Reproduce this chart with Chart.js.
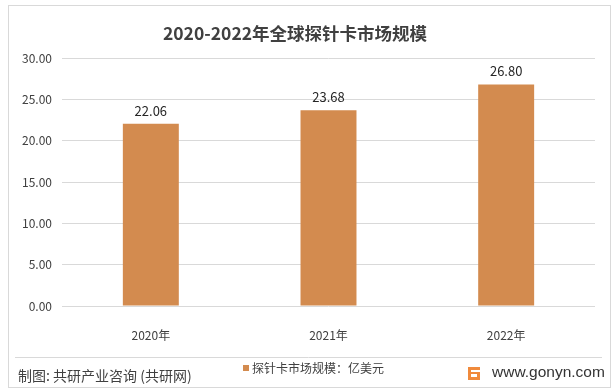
<!DOCTYPE html>
<html>
<head>
<meta charset="utf-8">
<script src="https://cdn.jsdelivr.net/npm/chart.js@4"></script>
<style>
  html, body { margin: 0; padding: 0; background: #fff; }
  #wrap { width: 616px; height: 392px; position: relative; }
</style>
</head>
<body>
<div id="wrap"><canvas id="chart" width="616" height="392"></canvas></div>
<script>
const categories = ['2020年', '2021年', '2022年'];
const marketSize = [22.06, 23.68, 26.80];
const seriesLabel = '探针卡市场规模：亿美元';
const titleText = '2020-2022年全球探针卡市场规模';
const sourceText = '制图: 共研产业咨询 (共研网)';
const siteText = 'www.gonyn.com';

const BAR_COLOR = '#D38B4F';
const CJK = '"Noto Sans CJK SC", "Noto Sans", sans-serif';

// title, value labels, footer, legend, border
const decor = {
  id: 'decor',
  afterDraw(chart) {
    const ctx = chart.ctx;
    ctx.save();
    // outer frame
    ctx.strokeStyle = '#d9d9d9';
    ctx.lineWidth = 1;
    ctx.strokeRect(8.5, 5.5, 602, 382);

    // title
    ctx.fillStyle = '#404040';
    ctx.font = 'bold 17.5px ' + CJK;
    ctx.textAlign = 'center';
    ctx.textBaseline = 'middle';
    ctx.fillText(titleText, 295, 33);

    // value labels above bars
    const meta = chart.getDatasetMeta(0);
    ctx.fillStyle = '#262626';
    ctx.font = '13px ' + CJK;
    meta.data.forEach((bar, i) => {
      ctx.fillText(marketSize[i].toFixed(2), bar.x, bar.y - 13);
    });

    // footer separator
    ctx.strokeStyle = '#d9d9d9';
    ctx.beginPath();
    ctx.moveTo(15, 357.5);
    ctx.lineTo(602, 357.5);
    ctx.stroke();

    // source
    ctx.fillStyle = '#404040';
    ctx.font = '14px ' + CJK;
    ctx.textAlign = 'left';
    ctx.fillText(sourceText, 18, 376);

    // legend
    const ds = chart.data.datasets[0];
    ctx.fillStyle = ds.backgroundColor;
    ctx.fillRect(243, 365, 6, 6);
    ctx.fillStyle = '#404040';
    ctx.font = '12px ' + CJK;
    ctx.fillText(ds.label, 252, 368);

    // site logo + url
    ctx.fillStyle = '#F08A3C';
    ctx.fillRect(468, 367, 12, 13);
    ctx.fillStyle = '#fff';
    ctx.fillRect(471, 370, 9, 2);
    ctx.fillRect(471, 374, 6, 3);
    ctx.fillStyle = '#333';
    ctx.font = '15.5px "Liberation Sans", sans-serif';
    ctx.fillText(siteText, 492, 373);
    ctx.restore();
  }
};

new Chart(document.getElementById('chart'), {
  type: 'bar',
  data: {
    labels: categories,
    datasets: [{
      label: seriesLabel,
      data: marketSize,
      backgroundColor: BAR_COLOR,
      categoryPercentage: 1,
      barPercentage: 0.315
    }]
  },
  options: {
    responsive: false,
    animation: false,
    layout: { padding: { top: 58, right: 21, bottom: 50, left: 0 } },
    plugins: {
      legend: { display: false },
      title: { display: false },
      tooltip: { enabled: false }
    },
    scales: {
      x: {
        grid: { display: false },
        border: { display: false },
        ticks: { color: '#404040', font: { size: 12, family: CJK }, padding: 14 },
        afterFit(scale) { scale.height = 36; }
      },
      y: {
        min: 0,
        max: 30,
        grid: { color: '#d9d9d9', drawTicks: false },
        border: { display: false },
        ticks: {
          stepSize: 5,
          color: '#404040',
          padding: 10,
          font: { size: 12, family: CJK },
          callback: v => v.toFixed(2)
        },
        afterFit(scale) { scale.width = 62; }
      }
    }
  },
  plugins: [decor]
});
</script>
</body>
</html>
